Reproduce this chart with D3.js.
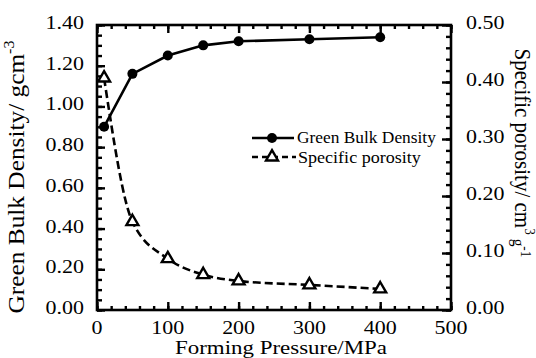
<!DOCTYPE html>
<html>
<head>
<meta charset="utf-8">
<script src="https://cdn.jsdelivr.net/npm/d3@7"></script>
<style>
  html, body { margin: 0; padding: 0; background: #fff; }
  svg { display: block; }
</style>
</head>
<body>
<svg id="chart" width="536" height="358"></svg>
<script>
// ---- data ----
const pressure = [10, 50, 100, 150, 200, 300, 400];
const density  = [0.90, 1.16, 1.25, 1.30, 1.32, 1.33, 1.34];
const porosity = [0.407, 0.155, 0.090, 0.062, 0.051, 0.044, 0.037];

const xTicks  = [0, 100, 200, 300, 400, 500];
const yLTicks = [0, 0.2, 0.4, 0.6, 0.8, 1.0, 1.2, 1.4];
const yRTicks = [0, 0.1, 0.2, 0.3, 0.4, 0.5];

const seriesNames = ["Green Bulk Density", "Specific porosity"];
const xTitle = "Forming Pressure/MPa";

// ---- layout ----
const W = 536, H = 358;
const L = 97, R = 451, T = 25, B = 310;
const FONT = "Liberation Serif";

const svg = d3.select("#chart");
svg.append("rect").attr("width", W).attr("height", H).attr("fill", "#fff");

const x  = d3.scaleLinear().domain([0, 500]).range([L, R]);
const yL = d3.scaleLinear().domain([0, 1.4]).range([B, T]);
const yR = d3.scaleLinear().domain([0, 0.5]).range([B, T]);

const sw = 2.4;

function styleAxis(g) {
  g.select(".domain").remove();
  g.selectAll("line").attr("stroke", "#000").attr("stroke-width", sw);
  g.selectAll("text").remove();
}

const xMinor  = d3.range(0, 500.1, 20);
const yLMinor = d3.range(0, 1.401, 0.05);
const yRMinor = d3.range(0, 0.501, 0.02);

// bottom axis (inward ticks)
svg.append("g").attr("transform", `translate(0,${B})`)
  .call(d3.axisBottom(x).tickValues(xMinor).tickSize(-4)).call(styleAxis);
svg.append("g").attr("transform", `translate(0,${B})`)
  .call(d3.axisBottom(x).tickValues(xTicks).tickSize(-8)).call(styleAxis);
// top axis
svg.append("g").attr("transform", `translate(0,${T})`)
  .call(d3.axisTop(x).tickValues(xMinor).tickSize(-4)).call(styleAxis);
svg.append("g").attr("transform", `translate(0,${T})`)
  .call(d3.axisTop(x).tickValues(xTicks).tickSize(-8)).call(styleAxis);
// left axis
svg.append("g").attr("transform", `translate(${L},0)`)
  .call(d3.axisLeft(yL).tickValues(yLMinor).tickSize(-5)).call(styleAxis);
svg.append("g").attr("transform", `translate(${L},0)`)
  .call(d3.axisLeft(yL).tickValues(yLTicks).tickSize(-8)).call(styleAxis);
// right axis
svg.append("g").attr("transform", `translate(${R},0)`)
  .call(d3.axisRight(yR).tickValues(yRMinor).tickSize(-5)).call(styleAxis);
svg.append("g").attr("transform", `translate(${R},0)`)
  .call(d3.axisRight(yR).tickValues(yRTicks).tickSize(-9)).call(styleAxis);

// frame
svg.append("rect").attr("x", L).attr("y", T).attr("width", R - L).attr("height", B - T)
  .attr("fill", "none").attr("stroke", "#000").attr("stroke-width", 2.6);

// tick labels
const tickFont = 18, tickSX = 1.22;
function tl(sel) { return sel.attr("font-family", FONT).attr("font-size", tickFont).attr("fill", "#000"); }
svg.append("g").selectAll("text").data(xTicks).join("text").call(tl)
  .attr("transform", d => `translate(${x(d)},334) scale(${tickSX},1)`)
  .attr("text-anchor", "middle")
  .text(d => d3.format("d")(d));
svg.append("g").selectAll("text").data(yLTicks).join("text").call(tl)
  .attr("transform", d => `translate(84,${yL(d) + 4}) scale(${tickSX},1)`)
  .attr("text-anchor", "end")
  .text(d => d3.format(".2f")(d));
svg.append("g").selectAll("text").data(yRTicks).join("text").call(tl)
  .attr("transform", d => `translate(466,${yR(d) + 4}) scale(${tickSX},1)`)
  .attr("text-anchor", "start")
  .text(d => d3.format(".2f")(d));

// fit helper: scale text along its own direction to a target length
function fit(t, base, target, sy) {
  const w = t.node().getBBox().width;
  t.attr("transform", `${base} scale(${target / w},${sy})`);
}

// x title
const xt = svg.append("text").attr("font-family", FONT).attr("text-anchor", "middle")
  .attr("font-size", 19).text(xTitle);
fit(xt, "translate(281,354)", 213, 1);

// left title
const lt = svg.append("text").attr("font-family", FONT).attr("text-anchor", "middle").attr("font-size", 19);
lt.append("tspan").text("Green Bulk Density/ gcm");
lt.append("tspan").attr("font-size", 12).attr("dy", -8).text("-3");
fit(lt, "translate(24,177) rotate(-90)", 273, 1.2);

// right title
const rt = svg.append("text").attr("font-family", FONT).attr("text-anchor", "middle").attr("font-size", 19);
rt.append("tspan").text("Specific porosity/ cm");
rt.append("tspan").attr("font-size", 12).attr("dy", -8).text("3");
rt.append("tspan").attr("font-size", 14).attr("dy", 10).text(" g");
rt.append("tspan").attr("font-size", 12).attr("dy", -7).text("-1");
fit(rt, "translate(515,153) rotate(90)", 209, 1.2);

// series lines
const lineD = d3.line().x((d, i) => x(pressure[i])).y(d => yL(d));
const lineP = d3.line().x((d, i) => x(pressure[i])).y(d => yR(d)).curve(d3.curveMonotoneX);

svg.append("path").attr("d", lineD(density)).attr("fill", "none")
  .attr("stroke", "#000").attr("stroke-width", 2.6);
svg.append("path").attr("d", lineP(porosity)).attr("fill", "none")
  .attr("stroke", "#000").attr("stroke-width", 2.6).attr("stroke-dasharray", "8,4");

// markers
svg.append("g").selectAll("circle").data(density).join("circle")
  .attr("cx", (d, i) => x(pressure[i])).attr("cy", d => yL(d)).attr("r", 5).attr("fill", "#000");

const tri = d3.symbol().type(d3.symbolTriangle).size(62);
svg.append("g").selectAll("path").data(porosity).join("path")
  .attr("d", tri).attr("transform", (d, i) => `translate(${x(pressure[i])},${yR(d)})`)
  .attr("fill", "#fff").attr("stroke", "#000").attr("stroke-width", 2.4);

// legend
const lg = svg.append("g");
lg.append("line").attr("x1", 252).attr("x2", 294).attr("y1", 138).attr("y2", 138)
  .attr("stroke", "#000").attr("stroke-width", 2.4);
lg.append("circle").attr("cx", 272).attr("cy", 138).attr("r", 5).attr("fill", "#000");
const l1 = lg.append("text").attr("font-family", FONT).attr("font-size", 16).text(seriesNames[0]);
fit(l1, "translate(297,143)", 139, 1);

lg.append("line").attr("x1", 252).attr("x2", 296).attr("y1", 157).attr("y2", 157)
  .attr("stroke", "#000").attr("stroke-width", 2.4).attr("stroke-dasharray", "6,4");
lg.append("path").attr("d", tri).attr("transform", "translate(272,157)")
  .attr("fill", "#fff").attr("stroke", "#000").attr("stroke-width", 2.4);
const l2 = lg.append("text").attr("font-family", FONT).attr("font-size", 16).text(seriesNames[1]);
fit(l2, "translate(298,163)", 123, 1);
</script>
</body>
</html>
